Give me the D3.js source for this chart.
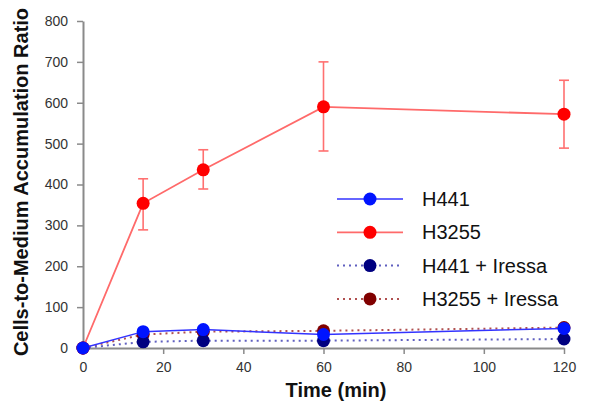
<!DOCTYPE html>
<html>
<head>
<meta charset="utf-8">
<script src="https://cdn.jsdelivr.net/npm/d3@7"></script>
<style>
  html, body { margin: 0; padding: 0; background: #fff; }
  svg { display: block; font-family: "Liberation Sans", Arial, sans-serif; }
</style>
</head>
<body>
<svg id="chart" width="601" height="411"></svg>
<script>
// ---- data ----
const times = [0, 15, 30, 60, 120];
const h441 = [0, 40, 45, 33, 48];
const h3255 = [0, 354, 436, 590, 572];
const h3255ErrLow = [0, 289, 389, 482, 489];
const h3255ErrHigh = [0, 414, 485, 700, 655];
const h441Iressa = [0, 15, 18, 18, 22];
const h3255Iressa = [0, 33, 40, 42, 50];
const xTicks = [0, 20, 40, 60, 80, 100, 120];
const yTicks = [0, 100, 200, 300, 400, 500, 600, 700, 800];
const seriesNames = ["H441", "H3255", "H441 + Iressa", "H3255 + Iressa"];

const svg = d3.select("#chart");
const x = d3.scaleLinear().domain([0, 120]).range([83, 564]);
const y = d3.scaleLinear().domain([0, 800]).range([348, 21]);

// axes
const axisColor = "#8a8a8a";
const gx = svg.append("g").attr("transform", "translate(0,348)")
  .call(d3.axisBottom(x).tickValues(xTicks).tickSize(6).tickSizeOuter(0).tickPadding(8));
const gy = svg.append("g").attr("transform", "translate(83,0)")
  .call(d3.axisLeft(y).tickValues(yTicks).tickSize(6).tickSizeOuter(0).tickPadding(9));
[gx, gy].forEach(g => {
  g.select(".domain").attr("stroke", axisColor).attr("stroke-width", 2);
  g.selectAll(".tick line").attr("stroke", axisColor).attr("stroke-width", 1.5);
  g.selectAll(".tick text").attr("fill", "#333").style("font-size", "14px")
    .style("font-family", "'Liberation Sans', Arial, sans-serif");
});

// titles
svg.append("text").attr("x", 336).attr("y", 397).attr("text-anchor", "middle")
  .style("font-weight", "bold").style("font-size", "20px").attr("fill", "#111")
  .text("Time (min)");
svg.append("text").attr("transform", "translate(28,182) rotate(-90)").attr("text-anchor", "middle")
  .style("font-weight", "bold").style("font-size", "20px").attr("fill", "#111")
  .text("Cells-to-Medium Accumulation Ratio");

const series = [
  { name: seriesNames[3], vals: h3255Iressa, line: "#b05050", marker: "#800000", dash: "2,4", w: 2 },
  { name: seriesNames[2], vals: h441Iressa, line: "#6060c0", marker: "#000080", dash: "2,4", w: 2 },
  { name: seriesNames[1], vals: h3255, line: "#ff6a6a", marker: "#ff0000", dash: null, w: 1.8 },
  { name: seriesNames[0], vals: h441, line: "#3333ff", marker: "#0014ff", dash: null, w: 1.5 }
];

const lineGen = d3.line().x(d => x(d[0])).y(d => y(d[1]));

// error bars for H3255
const eg = svg.append("g").attr("stroke", "#ff7070").attr("stroke-width", 1.6);
times.forEach((t, i) => {
  if (h3255ErrHigh[i] === h3255ErrLow[i]) return;
  eg.append("line").attr("x1", x(t)).attr("x2", x(t)).attr("y1", y(h3255ErrLow[i])).attr("y2", y(h3255ErrHigh[i]));
  [h3255ErrLow[i], h3255ErrHigh[i]].forEach(v => {
    eg.append("line").attr("x1", x(t) - 5).attr("x2", x(t) + 5).attr("y1", y(v)).attr("y2", y(v));
  });
});

series.forEach(s => {
  const pts = times.map((t, i) => [t, s.vals[i]]);
  svg.append("path").attr("d", lineGen(pts)).attr("fill", "none")
    .attr("stroke", s.line).attr("stroke-width", s.w)
    .attr("stroke-dasharray", s.dash);
  svg.append("g").selectAll("circle").data(pts).join("circle")
    .attr("cx", d => x(d[0])).attr("cy", d => y(d[1])).attr("r", 6.5)
    .attr("fill", s.marker);
});

// legend
const legendRows = [
  { name: seriesNames[0], s: series[3] },
  { name: seriesNames[1], s: series[2] },
  { name: seriesNames[2], s: series[1] },
  { name: seriesNames[3], s: series[0] }
];
const lg = svg.append("g");
legendRows.forEach((r, i) => {
  const yy = 199 + i * 33.3;
  lg.append("line").attr("x1", 337).attr("x2", 403).attr("y1", yy).attr("y2", yy)
    .attr("stroke", r.s.line).attr("stroke-width", r.s.w).attr("stroke-dasharray", r.s.dash);
  lg.append("circle").attr("cx", 370).attr("cy", yy).attr("r", 6.5).attr("fill", r.s.marker);
  lg.append("text").attr("x", 422).attr("y", yy + 7).style("font-size", "20px").attr("fill", "#111")
    .text(r.name);
});
</script>
</body>
</html>
